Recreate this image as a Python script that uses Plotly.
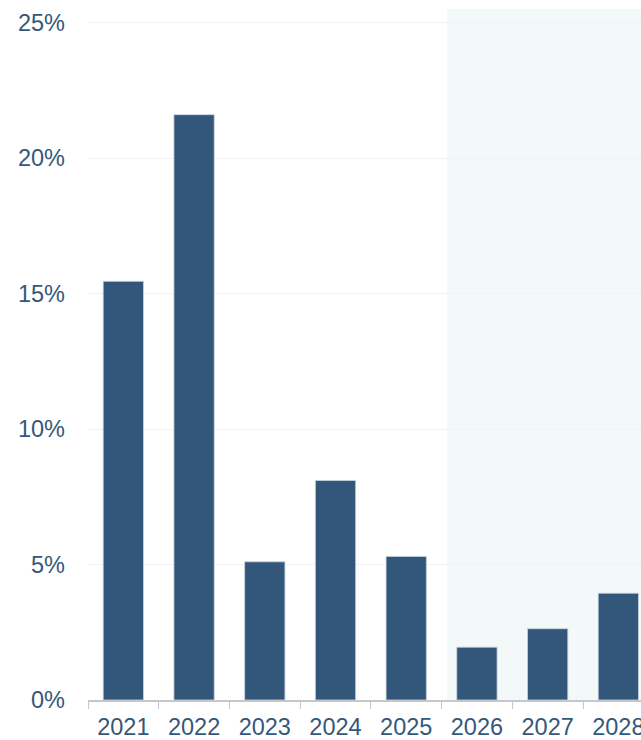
import plotly.graph_objects as go

years = ["2021", "2022", "2023", "2024", "2025", "2026", "2027", "2028"]
growth = [15.45, 21.6, 5.1, 8.1, 5.3, 1.95, 2.63, 3.94]
y_ticks = [0, 5, 10, 15, 20, 25]
y_tick_labels = ["0%", "5%", "10%", "15%", "20%", "25%"]

BAR = "#33577a"
TEXT = "#34587a"
FONT = "Liberation Sans, Arial, sans-serif"

fig = go.Figure()
fig.add_trace(go.Bar(
    x=years, y=growth,
    marker=dict(color=BAR, line=dict(color="rgba(200,212,222,0.8)", width=1)),
    hoverinfo="skip",
))

x_end = 7.32
fig.add_shape(type="rect", xref="x", yref="paper", x0=4.58, x1=x_end + 0.5, y0=0, y1=1,
              fillcolor="#f3f8f9", line=dict(width=0), layer="below")

fig.update_layout(
    width=641, height=740,
    margin=dict(l=88, r=0, t=9, b=40, autoexpand=False),
    paper_bgcolor="white", plot_bgcolor="white",
    showlegend=False, bargap=0.43,
    font=dict(family=FONT, size=23.5, color=TEXT),
    xaxis=dict(
        type="category", range=[-0.5, x_end], automargin=False,
        tickson="boundaries", ticks="outside", ticklen=7, tickcolor="#c4c8cc", tickwidth=1,
        showline=True, linecolor="#c4c8cc", linewidth=1.5,
        showgrid=False, tickfont=dict(size=23.5, color=TEXT),
        ticklabelstandoff=5,
    ),
    yaxis=dict(
        range=[0, 25.5], tickvals=y_ticks, ticktext=y_tick_labels, automargin=False,
        showgrid=True, gridcolor="#f1f2f3", gridwidth=1,
        zeroline=False, showline=False, ticks="",
        ticklabelstandoff=22, tickfont=dict(size=23.5, color=TEXT),
    ),
)

fig.write_html(
    "out.html",
    config={"displayModeBar": False},
    post_script="document.body.style.margin='0';document.body.style.overflow='hidden';",
)
